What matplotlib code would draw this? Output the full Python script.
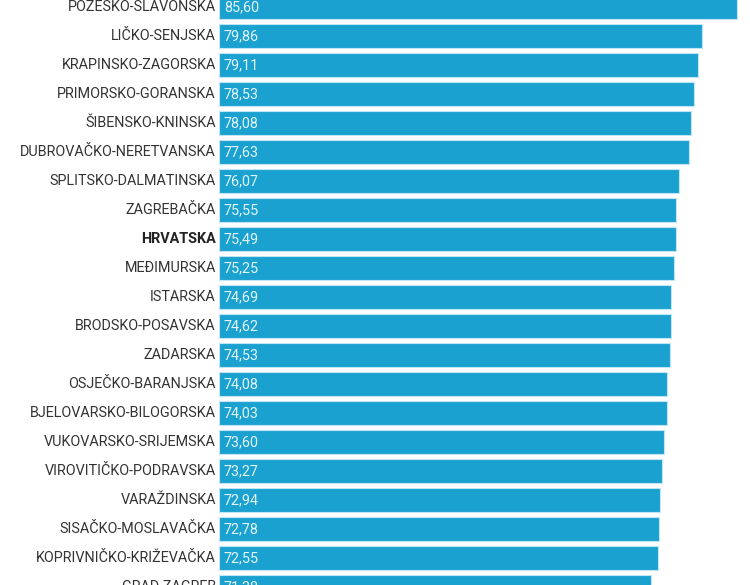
import matplotlib
matplotlib.use("Agg")
import matplotlib.pyplot as plt

categories = ["POŽEŠKO-SLAVONSKA", "LIČKO-SENJSKA", "KRAPINSKO-ZAGORSKA", "PRIMORSKO-GORANSKA",
              "ŠIBENSKO-KNINSKA", "DUBROVAČKO-NERETVANSKA", "SPLITSKO-DALMATINSKA", "ZAGREBAČKA",
              "HRVATSKA", "MEĐIMURSKA", "ISTARSKA", "BRODSKO-POSAVSKA", "ZADARSKA",
              "OSJEČKO-BARANJSKA", "BJELOVARSKO-BILOGORSKA", "VUKOVARSKO-SRIJEMSKA",
              "VIROVITIČKO-PODRAVSKA", "VARAŽDINSKA", "SISAČKO-MOSLAVAČKA",
              "KOPRIVNIČKO-KRIŽEVAČKA", "GRAD ZAGREB"]
values = [85.60, 79.86, 79.11, 78.53, 78.08, 77.63, 76.07, 75.55, 75.49, 75.25, 74.69,
          74.62, 74.53, 74.08, 74.03, 73.60, 73.27, 72.94, 72.78, 72.55, 71.38]
highlight = "HRVATSKA"

plt.rcParams['font.family'] = ['Roboto', 'DejaVu Sans']

fig = plt.figure(figsize=(7.5, 5.85), dpi=100)
ax = fig.add_axes([219/750, 0, 531/750, 1])
ax.set_xlim(0, 87.75)
ax.set_ylim(19.93, -0.241)

bar_color = "#1ba1cf"
ys = list(range(len(values)))
ax.barh(ys, values, height=0.85, color=bar_color, edgecolor="#bfe6f4", linewidth=0.8)

for y, v, c in zip(ys, values, categories):
    ax.text(0.8, y, f"{v:.2f}".replace(".", ","), va="center", ha="left",
            color="#e3f5fc", fontsize=10.4)
    ax.text(-0.5, y, c, va="center", ha="right", color="#333333" if c != highlight else "#222222",
            fontsize=10.4, fontweight="bold" if c == highlight else "normal",
            transform=ax.transData, clip_on=False)

ax.axis("off")
fig.savefig("out.png", dpi=100)
